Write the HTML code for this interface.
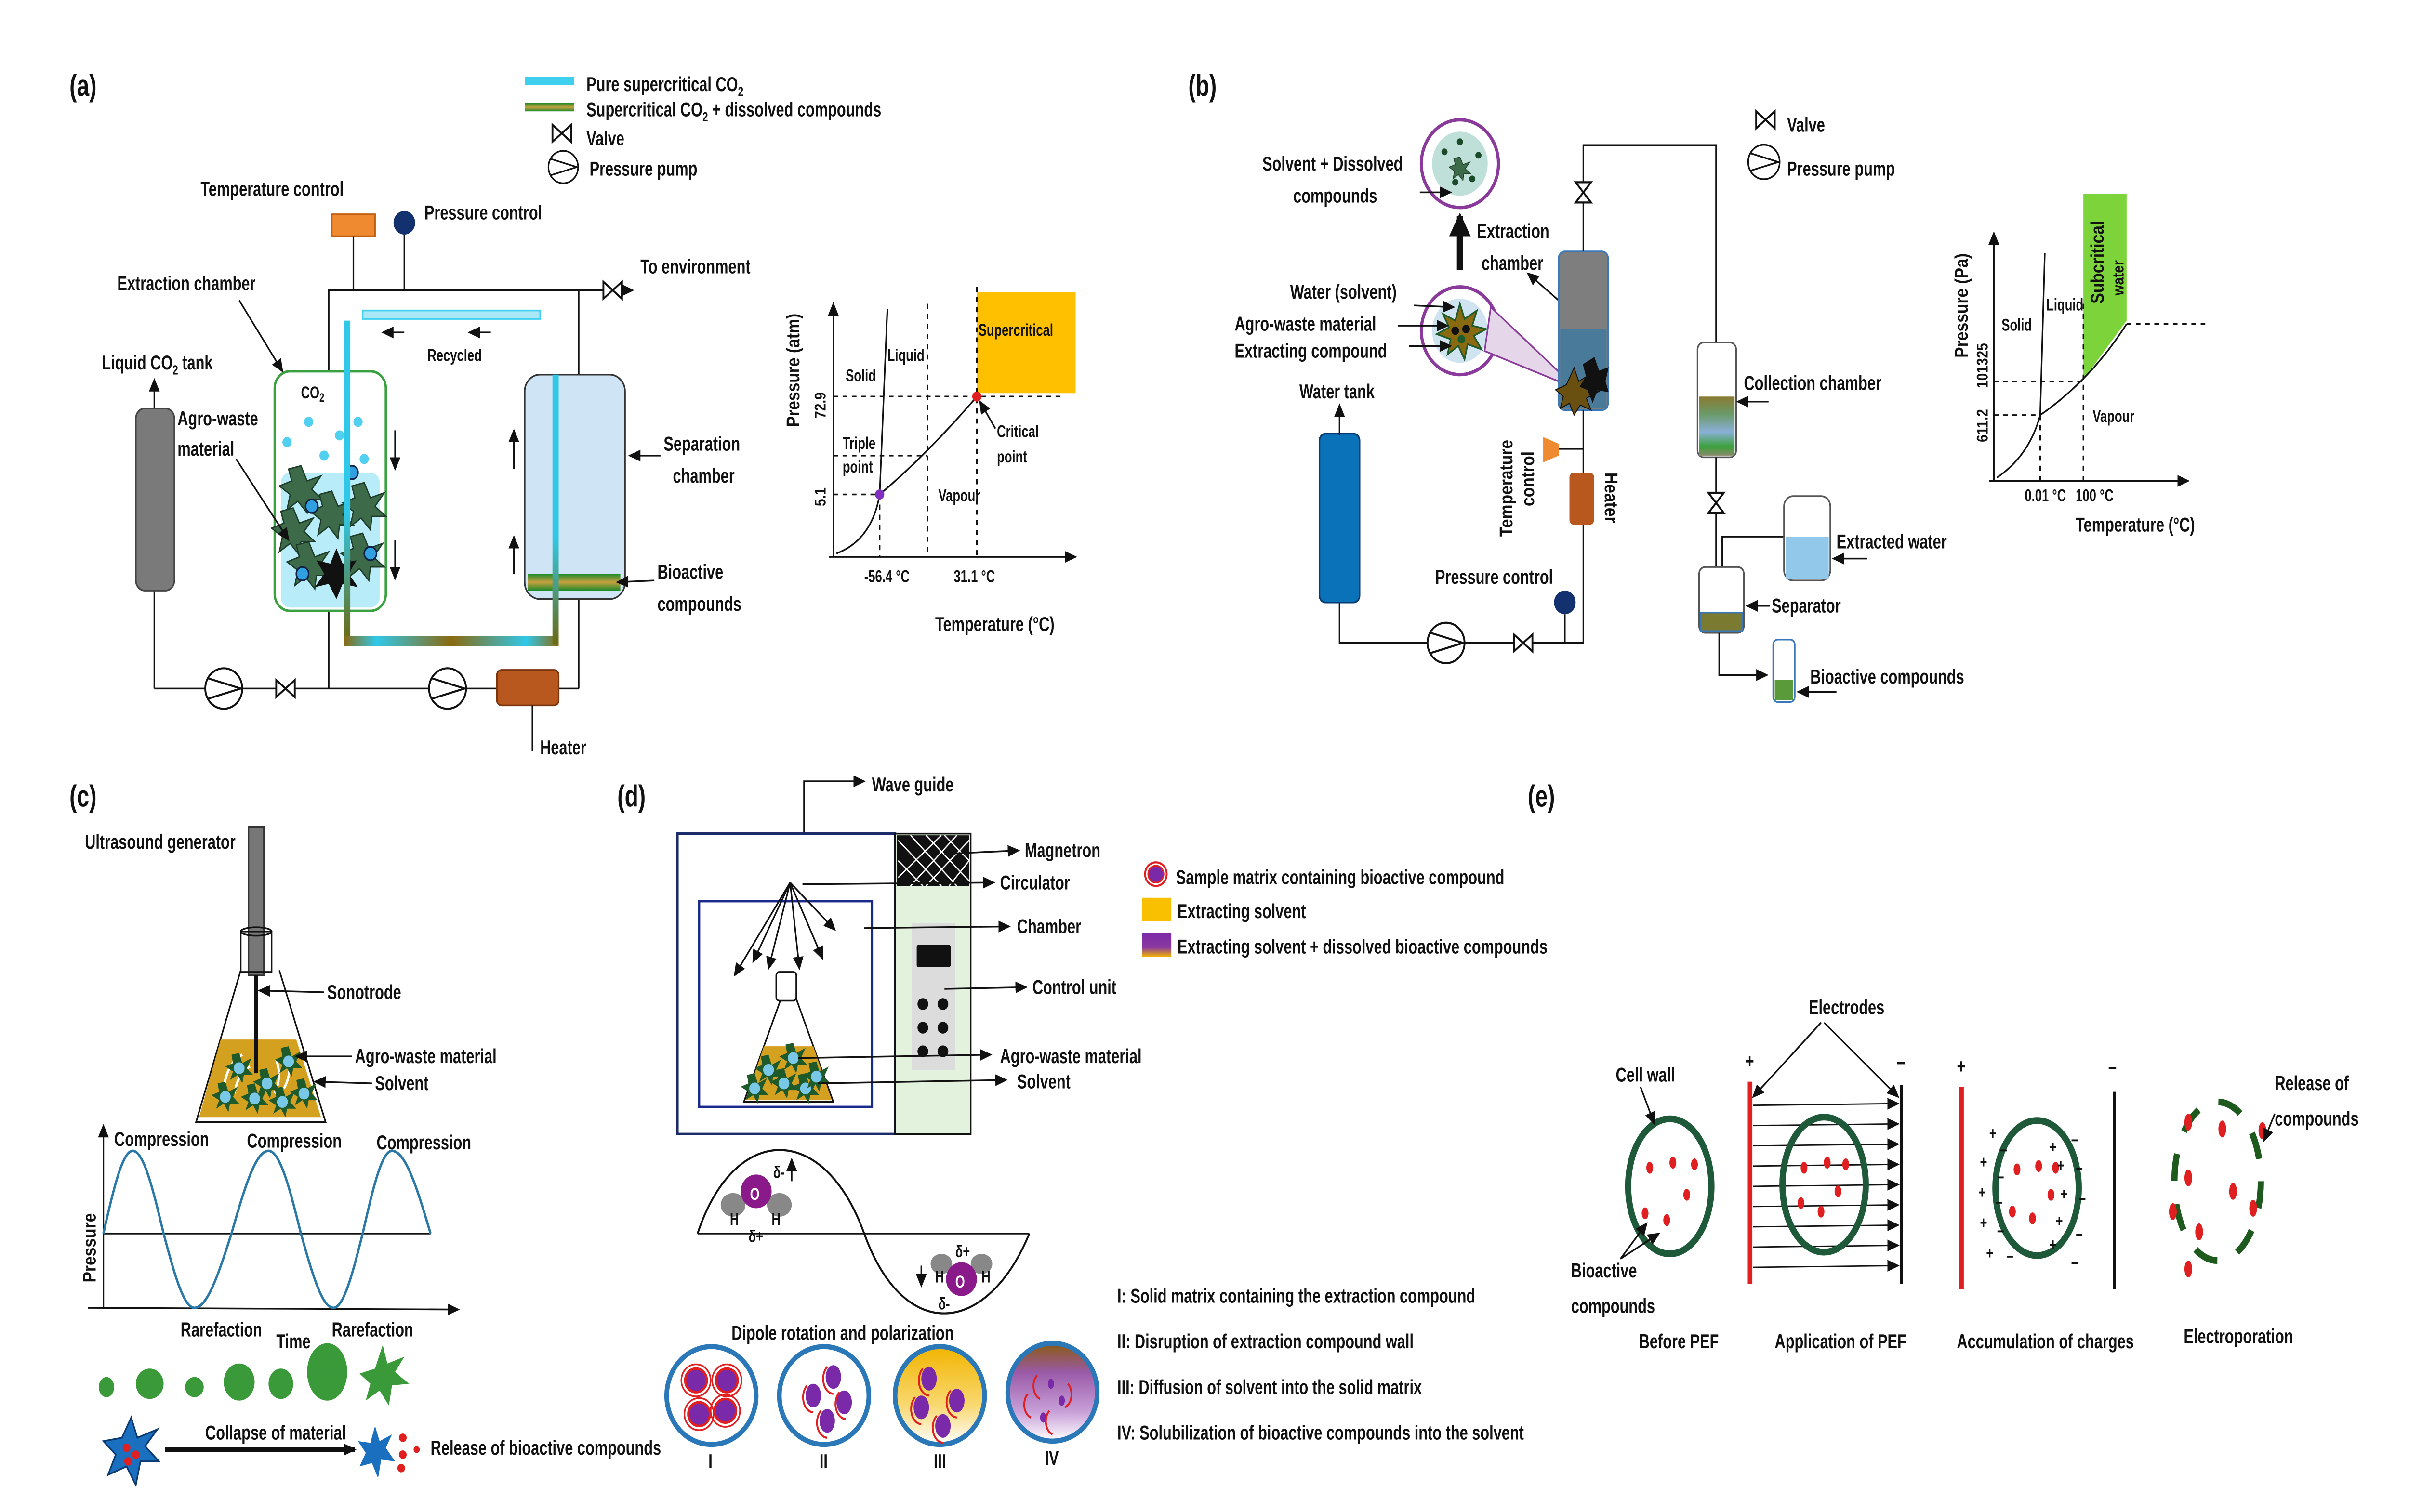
<!DOCTYPE html>
<html><head><meta charset="utf-8">
<style>
html,body{margin:0;padding:0;background:#fff;overflow:hidden;width:100%;height:100%;}
svg{display:block;width:100vw;height:100vh;}
text{font-family:"Liberation Sans",sans-serif;font-weight:bold;font-size:12px;fill:#111;transform-box:fill-box;transform-origin:0 50%;transform:scaleX(0.8);}
.lb{font-size:18px;}
.s{font-size:10px;}
</style></head><body>
<svg viewBox="0 0 1561 896" preserveAspectRatio="none" xmlns="http://www.w3.org/2000/svg">
<defs>
<marker id="ar" markerUnits="userSpaceOnUse" markerWidth="8" markerHeight="8" refX="7" refY="4" orient="auto"><path d="M0,0.5L8,4L0,7.5z" fill="#111"/></marker>
<marker id="arB" markerUnits="userSpaceOnUse" markerWidth="14" markerHeight="14" refX="12" refY="7" orient="auto"><path d="M0,0L14,7L0,14z" fill="#111"/></marker>
<linearGradient id="stripe" x1="0" y1="0" x2="0" y2="1"><stop offset="0" stop-color="#1b8b2a"/><stop offset="0.5" stop-color="#c8a040"/><stop offset="1" stop-color="#1b8b2a"/></linearGradient>
<linearGradient id="pipeH" x1="0" y1="0" x2="1" y2="0"><stop offset="0" stop-color="#8a6a10"/><stop offset="0.15" stop-color="#30c8e8"/><stop offset="0.5" stop-color="#8a6a10"/><stop offset="0.85" stop-color="#30c8e8"/><stop offset="1" stop-color="#8a6a10"/></linearGradient>
<linearGradient id="pipeV" x1="0" y1="0" x2="0" y2="1"><stop offset="0" stop-color="#30c8e8"/><stop offset="0.6" stop-color="#30c8e8"/><stop offset="1" stop-color="#6a6a10"/></linearGradient>
<linearGradient id="mix" x1="0" y1="0" x2="0" y2="1"><stop offset="0" stop-color="#7b2aa8"/><stop offset="0.6" stop-color="#8a3aa0"/><stop offset="1" stop-color="#f2b400"/></linearGradient>
<linearGradient id="dish3" x1="0" y1="0" x2="0" y2="1"><stop offset="0" stop-color="#f2b400"/><stop offset="0.6" stop-color="#f8d870"/><stop offset="1" stop-color="#fff"/></linearGradient>
<linearGradient id="dish4" x1="0" y1="0" x2="0" y2="1"><stop offset="0" stop-color="#8a5a10"/><stop offset="0.3" stop-color="#9a5aa8"/><stop offset="0.7" stop-color="#c8a0d8"/><stop offset="1" stop-color="#fff"/></linearGradient>
<linearGradient id="coll" x1="0" y1="0" x2="0" y2="1"><stop offset="0" stop-color="#8a7a30"/><stop offset="0.3" stop-color="#6a9a6a"/><stop offset="0.6" stop-color="#8ab0d8"/><stop offset="0.85" stop-color="#3aa03a"/><stop offset="1" stop-color="#8a8a6a"/></linearGradient>
<g id="valve"><path d="M-6,-5L6,5L6,-5L-6,5z" fill="#fff" stroke="#111" stroke-width="1.2"/></g>
<g id="pump"><circle r="12" fill="#fff" stroke="#111" stroke-width="1.2"/><path d="M-10,-6L11,0L-10,6" fill="none" stroke="#111" stroke-width="1.2"/></g>
<g id="star"><path d="M0,-14L4,-5L13,-8L7,0L14,6L5,6L4,14L-2,7L-9,12L-7,3L-14,-2L-6,-5L-8,-12z" fill="#3d6b4a" stroke="#1e3a28" stroke-width="0.8"/></g>
<g id="bstar"><path d="M0,-9L2,-3L8,-6L5,0L9,4L3,4L2,9L-1,4L-6,7L-4,2L-9,-1L-4,-3L-5,-8z" fill="#1e5a2a"/><circle r="3.5" fill="#7ac8e8"/></g>
</defs>
<rect width="1561" height="896" fill="#fff"/>

<!-- ============ (a) ============ -->
<text x="45" y="57" class="lb">(a)</text>
<line x1="340" y1="48" x2="372" y2="48" stroke="#3fd0f0" stroke-width="5"/>
<text x="380" y="54">Pure supercritical CO<tspan font-size="8" dy="3">2</tspan></text>
<rect x="340" y="61" width="32" height="5" fill="url(#stripe)"/>
<text x="380" y="69">Supercritical CO<tspan font-size="8" dy="3">2</tspan><tspan dy="-3"> + dissolved compounds</tspan></text>
<use href="#valve" x="364" y="79"/>
<text x="380" y="86">Valve</text>
<use href="#pump" x="365" y="99" transform="translate(365,99) scale(0.8) translate(-365,-99)"/>
<text x="382" y="104">Pressure pump</text>

<text x="130" y="116">Temperature control</text>
<rect x="215" y="127" width="28" height="13" fill="#f08a30" stroke="#c06010"/>
<line x1="229" y1="140" x2="229" y2="172" stroke="#111"/>
<line x1="262" y1="138" x2="262" y2="172" stroke="#111"/>
<circle cx="262" cy="132" r="7" fill="#13316e"/>
<text x="275" y="130">Pressure control</text>
<text x="415" y="162">To environment</text>
<polyline points="213,408 213,172 375,172 375,408" fill="none" stroke="#111"/>
<line x1="375" y1="172" x2="410" y2="172" stroke="#111" marker-end="url(#ar)"/>
<use href="#valve" x="397" y="172"/>
<line x1="100" y1="408" x2="375" y2="408" stroke="#111"/>
<line x1="100" y1="345" x2="100" y2="408" stroke="#111"/>
<line x1="100" y1="243" x2="100" y2="225" stroke="#111" marker-end="url(#ar)"/>
<text x="66" y="219">Liquid CO<tspan font-size="8" dy="3">2</tspan><tspan dy="-3"> tank</tspan></text>
<rect x="88" y="242" width="25" height="108" rx="6" fill="#7a7a7a" stroke="#444"/>
<use href="#pump" x="145" y="408"/>
<use href="#valve" x="185" y="408"/>
<use href="#pump" x="290" y="408"/>
<rect x="322" y="397" width="40" height="21" rx="3" fill="#b8581e" stroke="#7a3510"/>
<line x1="345" y1="418" x2="345" y2="445" stroke="#111"/>
<text x="350" y="447">Heater</text>

<text x="76" y="172">Extraction chamber</text>
<line x1="155" y1="178" x2="183" y2="220" stroke="#111" marker-end="url(#ar)"/>
<rect x="178" y="220" width="72" height="142" rx="10" fill="#fff" stroke="#3aa040" stroke-width="1.5"/>
<rect x="182" y="280" width="64" height="80" rx="6" fill="#b8ecf8"/>
<text x="195" y="236" class="s">CO<tspan font-size="7" dy="2">2</tspan></text>
<g fill="#52d0f0"><circle cx="200" cy="250" r="3"/><circle cx="186" cy="262" r="3"/><circle cx="210" cy="270" r="3"/><circle cx="194" cy="282" r="3"/><circle cx="232" cy="250" r="3"/><circle cx="220" cy="258" r="3"/><circle cx="236" cy="272" r="3"/></g>
<use href="#star" x="195" y="290"/><use href="#star" x="190" y="315"/><use href="#star" x="215" y="305"/><use href="#star" x="236" y="300"/><use href="#star" x="200" y="335"/><use href="#star" x="235" y="330"/>
<path d="M218,325L222,334L231,332L226,340L232,348L222,346L218,355L213,346L204,348L210,340L205,332L214,334z" fill="#111"/>
<g fill="#30a0e0" stroke="#124"><circle cx="202" cy="300" r="4"/><circle cx="228" cy="280" r="4"/><circle cx="240" cy="328" r="4"/><circle cx="196" cy="340" r="4"/></g>
<text x="115" y="252">Agro-waste</text><text x="115" y="270">material</text>
<line x1="153" y1="272" x2="187" y2="320" stroke="#111" marker-end="url(#ar)"/>
<rect x="340" y="222" width="65" height="133" rx="10" fill="#cfe4f5" stroke="#333"/>
<rect x="342" y="340" width="60" height="10" fill="url(#stripe)"/>
<rect x="223" y="190" width="4" height="190" fill="url(#pipeV)"/>
<rect x="223" y="377" width="139" height="6" fill="url(#pipeH)"/>
<rect x="358" y="222" width="4" height="160" fill="url(#pipeV)"/>
<rect x="235" y="184" width="115" height="5" fill="#a8e8f8" stroke="#3fd0f0"/>
<line x1="262" y1="197" x2="248" y2="197" stroke="#111" marker-end="url(#ar)"/>
<line x1="318" y1="197" x2="304" y2="197" stroke="#111" marker-end="url(#ar)"/>
<text x="277" y="214" class="s">Recycled</text>
<line x1="256" y1="255" x2="256" y2="278" stroke="#111" marker-end="url(#ar)"/>
<line x1="256" y1="320" x2="256" y2="343" stroke="#111" marker-end="url(#ar)"/>
<line x1="333" y1="278" x2="333" y2="255" stroke="#111" marker-end="url(#ar)"/>
<line x1="333" y1="340" x2="333" y2="318" stroke="#111" marker-end="url(#ar)"/>
<text x="430" y="267">Separation</text><text x="436" y="286">chamber</text>
<line x1="428" y1="270" x2="408" y2="270" stroke="#111" marker-end="url(#ar)"/>
<text x="426" y="343">Bioactive</text><text x="426" y="362">compounds</text>
<line x1="424" y1="344" x2="400" y2="345" stroke="#111" marker-end="url(#ar)"/>

<!-- phase diagram a -->
<line x1="540" y1="330" x2="540" y2="180" stroke="#111" marker-end="url(#ar)"/>
<line x1="537" y1="330" x2="697" y2="330" stroke="#111" marker-end="url(#ar)"/>
<rect x="633" y="173" width="64" height="60" fill="#ffc000"/>
<text x="634" y="199" class="s">Supercritical</text>
<path d="M542,328 Q565,320 570,293 Q600,270 633,235" fill="none" stroke="#111"/>
<path d="M570,293 L575,183" fill="none" stroke="#111"/>
<g stroke="#111" stroke-dasharray="3,3" fill="none"><line x1="540" y1="235" x2="690" y2="235"/><line x1="540" y1="293" x2="570" y2="293"/><line x1="570" y1="293" x2="570" y2="330"/><line x1="633" y1="170" x2="633" y2="330"/><line x1="601" y1="180" x2="601" y2="330"/><line x1="540" y1="270" x2="601" y2="270"/></g>
<circle cx="570" cy="293" r="3" fill="#8030c0"/><circle cx="633" cy="235" r="3" fill="#e02020"/>
<g transform="rotate(-90 518 253)"><text x="518" y="253">Pressure (atm)</text></g>
<g transform="rotate(-90 535 248)"><text x="535" y="248" class="s">72.9</text></g>
<g transform="rotate(-90 535 300)"><text x="535" y="300" class="s">5.1</text></g>
<text x="548" y="226" class="s">Solid</text><text x="575" y="214" class="s">Liquid</text>
<text x="546" y="266" class="s">Triple</text><text x="546" y="280" class="s">point</text>
<text x="608" y="297" class="s">Vapour</text>
<text x="646" y="259" class="s">Critical</text><text x="646" y="274" class="s">point</text>
<line x1="645" y1="254" x2="635" y2="238" stroke="#111" marker-end="url(#ar)"/>
<text x="560" y="345" class="s">-56.4 °C</text><text x="618" y="345" class="s">31.1 °C</text>
<text x="606" y="374">Temperature (°C)</text>

<!-- ============ (b) ============ -->
<text x="770" y="57" class="lb">(b)</text>
<use href="#valve" x="1144" y="71"/><text x="1158" y="78">Valve</text>
<use href="#pump" x="1143" y="96" transform="translate(1143,96) scale(0.85) translate(-1143,-96)"/><text x="1158" y="104">Pressure pump</text>
<ellipse cx="946" cy="97" rx="25" ry="26" fill="#fff" stroke="#8a3a9a" stroke-width="2"/>
<ellipse cx="946" cy="97" rx="18" ry="19" fill="#bfe0d8"/>
<use href="#star" x="946" y="100" transform="translate(946,100) scale(0.5) translate(-946,-100)"/>
<g fill="#1a4a2a"><circle cx="936" cy="90" r="2"/><circle cx="958" cy="92" r="2"/><circle cx="943" cy="108" r="2"/><circle cx="954" cy="106" r="2"/><circle cx="946" cy="84" r="2"/></g>
<text x="818" y="101">Solvent + Dissolved</text><text x="838" y="120">compounds</text>
<line x1="920" y1="114" x2="940" y2="114" stroke="#111" marker-end="url(#ar)"/>
<line x1="946" y1="160" x2="946" y2="128" stroke="#111" stroke-width="4" marker-end="url(#arB)"/>
<text x="957" y="141">Extraction</text><text x="960" y="160">chamber</text>
<line x1="1010" y1="178" x2="990" y2="162" stroke="#111" marker-end="url(#ar)"/>
<ellipse cx="946" cy="196" rx="25" ry="26" fill="#fff" stroke="#8a3a9a" stroke-width="2"/>
<ellipse cx="946" cy="196" rx="18" ry="19" fill="#cfe4f0"/>
<path d="M946,180L949,189L957,184L954,193L963,195L955,199L960,207L951,204L949,213L945,205L938,210L940,201L931,198L939,194L935,186L943,190z" fill="#8a6a10" stroke="#1e5a2a"/>
<circle cx="943" cy="196" r="2.5" fill="#111"/><circle cx="950" cy="195" r="2.5" fill="#111"/><circle cx="947" cy="201" r="2.5" fill="#1e5a2a"/>
<path d="M966,182 L1012,222 L1010,226 L962,208z" fill="#e6d6ea" stroke="#8a3a9a"/>
<text x="836" y="177">Water (solvent)</text>
<text x="800" y="196">Agro-waste material</text>
<text x="800" y="212">Extracting compound</text>
<line x1="916" y1="181" x2="942" y2="182" stroke="#111" marker-end="url(#ar)"/>
<line x1="906" y1="193" x2="938" y2="193" stroke="#111" marker-end="url(#ar)"/>
<line x1="913" y1="205" x2="940" y2="205" stroke="#111" marker-end="url(#ar)"/>
<rect x="1010" y="149" width="32" height="94" rx="4" fill="#7e7e7e" stroke="#3a78b8"/>
<rect x="1011" y="195" width="30" height="47" fill="#4a7a9a"/>
<g fill="#6a5010" stroke="#111" stroke-width="0.6">
<path d="M1020,218L1023,226L1030,222L1028,230L1036,232L1028,236L1031,243L1024,240L1020,246L1017,239L1011,242L1013,235L1008,231L1015,228z"/>
<path d="M1033,212L1036,220L1042,218L1040,226L1042,232L1035,231L1032,238L1029,231L1024,229L1028,223L1026,216z" fill="#111"/></g>
<polyline points="1026,149 1026,86 1112,86 1112,203" fill="none" stroke="#111"/>
<use href="#valve" x="1026" y="114" transform="rotate(90 1026 114)"/>
<polyline points="1026,243 1026,381 868,381 868,357" fill="none" stroke="#111"/>
<rect x="855" y="257" width="26" height="100" rx="4" fill="#0a72b8" stroke="#0a3a70"/>
<line x1="868" y1="258" x2="868" y2="240" stroke="#111" marker-end="url(#ar)"/>
<text x="842" y="236">Water tank</text>
<use href="#pump" x="937" y="381"/><use href="#valve" x="987" y="381"/>
<circle cx="1014" cy="357" r="7" fill="#13316e"/><line x1="1014" y1="364" x2="1014" y2="381" stroke="#111"/>
<text x="930" y="346">Pressure control</text>
<path d="M1000,259 L1010,263 L1010,270 L1000,274z" fill="#f08a30"/><line x1="1010" y1="266" x2="1026" y2="266" stroke="#111"/>
<g transform="rotate(-90 980 318)"><text x="980" y="318">Temperature</text></g>
<g transform="rotate(-90 994 300)"><text x="994" y="300">control</text></g>
<rect x="1017" y="280" width="16" height="31" rx="3" fill="#b8581e"/>
<g transform="rotate(90 1040 280)"><text x="1040" y="280">Heater</text></g>
<rect x="1100" y="203" width="25" height="68" rx="4" fill="#fff" stroke="#555"/>
<rect x="1101" y="235" width="23" height="35" fill="url(#coll)"/>
<text x="1130" y="231">Collection chamber</text>
<line x1="1146" y1="238" x2="1126" y2="238" stroke="#111" marker-end="url(#ar)"/>
<polyline points="1112,271 1112,336" fill="none" stroke="#111"/>
<use href="#valve" x="1112" y="298" transform="rotate(90 1112 298)"/>
<polyline points="1116,336 1116,318 1156,318" fill="none" stroke="#111"/>
<rect x="1156" y="294" width="30" height="50" rx="6" fill="#fff" stroke="#555"/>
<rect x="1157" y="318" width="28" height="25" fill="#92c8ea"/>
<text x="1190" y="325">Extracted water</text>
<line x1="1210" y1="331" x2="1188" y2="331" stroke="#111" marker-end="url(#ar)"/>
<rect x="1101" y="336" width="29" height="39" rx="4" fill="#fff" stroke="#555"/>
<rect x="1102" y="363" width="27" height="11" fill="#7a7a30" stroke="#3a78b8"/>
<text x="1148" y="363">Separator</text>
<line x1="1147" y1="359" x2="1132" y2="359" stroke="#111" marker-end="url(#ar)"/>
<polyline points="1114,375 1114,400 1145,400" fill="none" stroke="#111" marker-end="url(#ar)"/>
<rect x="1149" y="379" width="14" height="37" rx="3" fill="#fff" stroke="#3a78b8"/>
<rect x="1150" y="403" width="12" height="12" fill="#5a9a3a"/>
<text x="1173" y="405">Bioactive compounds</text>
<line x1="1190" y1="410" x2="1165" y2="410" stroke="#111" marker-end="url(#ar)"/>
<!-- phase diagram b -->
<line x1="1292" y1="285" x2="1292" y2="138" stroke="#111" marker-end="url(#ar)"/>
<line x1="1289" y1="285" x2="1418" y2="285" stroke="#111" marker-end="url(#ar)"/>
<path d="M1350,115 L1378,115 L1378,190 L1350,225z" fill="#7cd33a"/>
<g transform="rotate(-90 1363 180)"><text x="1363" y="180">Subcritical</text></g>
<g transform="rotate(-90 1376 175)"><text x="1376" y="175" class="s">water</text></g>
<path d="M1294,283 Q1315,270 1322,246 Q1355,225 1378,192" fill="none" stroke="#111"/>
<path d="M1322,246 L1325,150" fill="none" stroke="#111"/>
<g stroke="#111" stroke-dasharray="3,3" fill="none"><line x1="1292" y1="246" x2="1322" y2="246"/><line x1="1322" y1="246" x2="1322" y2="285"/><line x1="1350" y1="180" x2="1350" y2="285"/><line x1="1292" y1="226" x2="1350" y2="226"/><line x1="1378" y1="192" x2="1430" y2="192"/></g>
<g transform="rotate(-90 1275 212)"><text x="1275" y="212">Pressure (Pa)</text></g>
<g transform="rotate(-90 1288 262)"><text x="1288" y="262" class="s">611.2</text></g>
<g transform="rotate(-90 1288 230)"><text x="1288" y="230" class="s">101325</text></g>
<text x="1297" y="196" class="s">Solid</text><text x="1326" y="184" class="s">Liquid</text>
<text x="1356" y="250" class="s">Vapour</text>
<text x="1312" y="297" class="s">0.01 °C</text><text x="1345" y="297" class="s">100 °C</text>
<text x="1345" y="315">Temperature (°C)</text>

<!-- ============ (c) ============ -->
<text x="45" y="478" class="lb">(c)</text>
<text x="55" y="503">Ultrasound generator</text>
<path d="M156,575 L127,665 L211,665 L181,575" fill="none" stroke="#111"/>
<path d="M143,616 L129,662 L208,662 L192,616z" fill="#d4a020"/>
<rect x="161" y="490" width="10" height="88" fill="#777" stroke="#333"/>
<rect x="156" y="552" width="20" height="24" fill="none" stroke="#111"/>
<ellipse cx="166" cy="552" rx="10" ry="2.5" fill="none" stroke="#111"/>
<line x1="166" y1="578" x2="166" y2="636" stroke="#111" stroke-width="2.5"/>
<g stroke="#fff" fill="none" stroke-width="1.5"><path d="M145,645 q2,-15 12,-20"/><path d="M152,648 q2,-12 10,-16"/><path d="M184,645 q6,-10 2,-22"/><path d="M178,648 q5,-10 1,-20"/></g>
<use href="#bstar" x="155" y="633"/><use href="#bstar" x="165" y="651"/><use href="#bstar" x="146" y="650"/>
<use href="#bstar" x="187" y="629"/><use href="#bstar" x="183" y="653"/><use href="#bstar" x="197" y="648"/><use href="#bstar" x="173" y="642"/>
<text x="212" y="592">Sonotrode</text><line x1="210" y1="588" x2="168" y2="587" stroke="#111" marker-end="url(#ar)"/>
<text x="230" y="630">Agro-waste material</text><line x1="228" y1="626" x2="192" y2="626" stroke="#111" marker-end="url(#ar)"/>
<text x="243" y="646">Solvent</text><line x1="241" y1="642" x2="204" y2="641" stroke="#111" marker-end="url(#ar)"/>
<line x1="67" y1="775" x2="67" y2="667" stroke="#111" marker-end="url(#ar)"/>
<line x1="57" y1="775" x2="297" y2="776" stroke="#111" marker-end="url(#ar)"/>
<line x1="67" y1="731" x2="279" y2="731" stroke="#111"/>
<path d="M67,731 C73.7,704 79.4,682 86,682 C93,682 99,704 106,731 C113,755 119,775 126,775 C134.4,775 141.6,755 150,731 C158.4,704 165.6,682 174,682 C181.4,682 187.7,704 195,731 C202.4,755 208.7,775 216,775 C222.7,775 228.4,755 235,731 C241.7,704 247.4,682 254,682 C262.8,682 270.3,704 279,731" fill="none" stroke="#2a78a8" stroke-width="1.5"/>
<g transform="rotate(-90 62 760)"><text x="62" y="760">Pressure</text></g>
<text x="74" y="679">Compression</text><text x="160" y="680">Compression</text><text x="244" y="681">Compression</text>
<text x="117" y="792">Rarefaction</text><text x="215" y="792">Rarefaction</text>
<text x="179" y="799">Time</text>
<g fill="#3a9a3a"><ellipse cx="69" cy="822" rx="5" ry="6"/><ellipse cx="97" cy="820" rx="9" ry="9"/><ellipse cx="126" cy="822" rx="6" ry="6"/><ellipse cx="155" cy="819" rx="10" ry="11"/><ellipse cx="182" cy="820" rx="8" ry="9"/><ellipse cx="212" cy="813" rx="13" ry="17"/></g>
<path d="M248,797 L251,808 L262,804 L256,813 L265,820 L254,821 L252,833 L246,824 L237,830 L240,820 L233,814 L243,811z" fill="#3a9a3a"/>
<path d="M85,840 L89,852 L102,847 L94,857 L103,866 L91,866 L88,880 L82,869 L70,874 L75,862 L67,854 L79,852z" fill="#1a6fbf" stroke="#0a3a70"/>
<g fill="#e02020"><circle cx="82" cy="858" r="2.5"/><circle cx="88" cy="862" r="2.5"/><circle cx="83" cy="866" r="2.5"/></g>
<line x1="107" y1="859" x2="230" y2="859" stroke="#111" stroke-width="3" marker-end="url(#ar)"/>
<text x="133" y="853">Collapse of material</text>
<path d="M243,845 L246,854 L254,850 L250,858 L256,866 L247,865 L245,876 L241,867 L233,869 L237,861 L232,854 L240,855z" fill="#1a6fbf"/>
<g fill="#e02020"><circle cx="261" cy="852" r="2.5"/><circle cx="261" cy="862" r="2.5"/><circle cx="260" cy="870" r="2.5"/><circle cx="270" cy="859" r="2"/></g>
<text x="279" y="862">Release of bioactive compounds</text>

<!-- ============ (d) ============ -->
<text x="400" y="478" class="lb">(d)</text>
<polyline points="521,510 521,463 560,463" fill="none" stroke="#111" marker-end="url(#ar)"/>
<text x="565" y="469">Wave guide</text>
<rect x="439" y="494" width="141" height="178" fill="#fff" stroke="#1a2a6a" stroke-width="1.5"/>
<rect x="580" y="494" width="49" height="178" fill="#e2f2dc" stroke="#111"/>
<rect x="581" y="495" width="47" height="30" fill="#111"/>
<g stroke="#fff" stroke-width="0.8"><path d="M582,498 L610,525 M590,495 L620,525 M600,495 L628,522 M582,510 L598,525 M612,495 L628,510 M628,498 L600,525 M620,495 L590,525 M610,495 L582,520 M628,510 L615,525"/></g>
<rect x="453" y="534" width="112" height="122" fill="none" stroke="#1a2a8a" stroke-width="1.5"/>
<rect x="591" y="547" width="28" height="87" fill="#dcdcdc"/>
<rect x="594" y="560" width="22" height="13" rx="1" fill="#111"/>
<g fill="#111"><circle cx="598" cy="595" r="3.5"/><circle cx="611" cy="595" r="3.5"/><circle cx="598" cy="609" r="3.5"/><circle cx="611" cy="609" r="3.5"/><circle cx="598" cy="623" r="3.5"/><circle cx="611" cy="623" r="3.5"/></g>
<g stroke="#111"><line x1="512" y1="523" x2="476" y2="578" marker-end="url(#ar)"/><line x1="512" y1="523" x2="488" y2="570" marker-end="url(#ar)"/><line x1="512" y1="523" x2="498" y2="574" marker-end="url(#ar)"/><line x1="512" y1="523" x2="518" y2="574" marker-end="url(#ar)"/><line x1="512" y1="523" x2="533" y2="568" marker-end="url(#ar)"/><line x1="512" y1="523" x2="541" y2="551" marker-end="url(#ar)"/></g>
<path d="M506,592 L482,653 L540,653 L516,592z" fill="#fff" stroke="#111"/>
<path d="M495,620 L483,652 L539,652 L527,620z" fill="#d4a020"/>
<rect x="503" y="576" width="13" height="17" rx="2" fill="#fff" stroke="#111"/>
<use href="#bstar" x="498" y="634"/><use href="#bstar" x="514" y="627"/><use href="#bstar" x="508" y="642"/><use href="#bstar" x="522" y="645"/><use href="#bstar" x="489" y="645"/><use href="#bstar" x="529" y="638"/>
<line x1="612" y1="506" x2="660" y2="504" stroke="#111" marker-end="url(#ar)"/><text x="664" y="508">Magnetron</text>
<line x1="520" y1="524" x2="644" y2="523" stroke="#111" marker-end="url(#ar)"/><text x="648" y="527">Circulator</text>
<line x1="560" y1="550" x2="654" y2="549" stroke="#111" marker-end="url(#ar)"/><text x="659" y="553">Chamber</text>
<line x1="612" y1="586" x2="665" y2="585" stroke="#111" marker-end="url(#ar)"/><text x="669" y="589">Control unit</text>
<line x1="517" y1="627" x2="642" y2="625" stroke="#111" marker-end="url(#ar)"/><text x="648" y="630">Agro-waste material</text>
<line x1="530" y1="642" x2="652" y2="640" stroke="#111" marker-end="url(#ar)"/><text x="659" y="645">Solvent</text>
<circle cx="749" cy="518" r="7" fill="#fff" stroke="#e02020" stroke-width="1.2"/><circle cx="749" cy="518" r="5" fill="#7a2aa8" stroke="#e02020" stroke-width="1"/><text x="762" y="524">Sample matrix containing bioactive compound</text>
<rect x="740" y="532" width="19" height="14" fill="#f8c000"/><text x="763" y="544">Extracting solvent</text>
<rect x="740" y="553" width="19" height="14" fill="url(#mix)"/><text x="763" y="565">Extracting solvent + dissolved bioactive compounds</text>
<line x1="452" y1="731" x2="667" y2="731" stroke="#111"/>
<path d="M452,731 C476,665 534,665 560,731 S640,791 667,731" fill="none" stroke="#111" stroke-width="1.2"/>
<ellipse cx="475" cy="714" rx="8" ry="7" fill="#888"/><ellipse cx="505" cy="714" rx="8" ry="7" fill="#888"/>
<circle cx="490" cy="706" r="10" fill="#8a1a8a"/><text x="486" y="711" style="fill:#fff" class="s">O</text>
<text x="473" y="726" class="s">H</text><text x="500" y="726" class="s">H</text><text x="501" y="698" class="s">δ-</text><text x="485" y="736" class="s">δ+</text>
<line x1="513" y1="700" x2="513" y2="687" stroke="#111" marker-end="url(#ar)"/>
<ellipse cx="610" cy="749" rx="7" ry="6" fill="#888"/><ellipse cx="636" cy="749" rx="7" ry="6" fill="#888"/>
<circle cx="623" cy="758" r="10" fill="#8a1a8a"/><text x="619" y="763" style="fill:#fff" class="s">O</text>
<text x="606" y="760" class="s">H</text><text x="636" y="760" class="s">H</text><text x="619" y="745" class="s">δ+</text><text x="608" y="776" class="s">δ-</text>
<line x1="597" y1="750" x2="597" y2="762" stroke="#111" marker-end="url(#ar)"/>
<text x="474" y="794">Dipole rotation and polarization</text>
<g stroke="#2a78b8" stroke-width="3">
<circle cx="461" cy="827" r="29" fill="#fff"/><circle cx="534" cy="827" r="29" fill="#fff"/><circle cx="609" cy="827" r="29" fill="url(#dish3)"/><circle cx="682" cy="825" r="29" fill="url(#dish4)"/></g>
<g fill="#7a2aa8" stroke="#e02020" stroke-width="1.5">
<circle cx="451" cy="818" r="7"/><circle cx="471" cy="818" r="7"/><circle cx="453" cy="838" r="7"/><circle cx="470" cy="836" r="7"/></g>
<g fill="none" stroke="#e02020" stroke-width="1"><circle cx="451" cy="818" r="9.5"/><circle cx="471" cy="818" r="9.5"/><circle cx="453" cy="838" r="9.5"/><circle cx="470" cy="836" r="9.5"/></g>
<g fill="#7a2aa8"><ellipse cx="527" cy="827" rx="5" ry="7"/><ellipse cx="540" cy="816" rx="5" ry="7"/><ellipse cx="547" cy="831" rx="5" ry="7"/><ellipse cx="536" cy="842" rx="5" ry="7"/>
<ellipse cx="602" cy="817" rx="5" ry="7"/><ellipse cx="597" cy="834" rx="5" ry="7"/><ellipse cx="620" cy="830" rx="5" ry="7"/><ellipse cx="611" cy="845" rx="5" ry="7"/>
<ellipse cx="681" cy="820" rx="2" ry="3"/><ellipse cx="688" cy="830" rx="2" ry="3"/><ellipse cx="676" cy="840" rx="2" ry="3"/></g>
<g fill="none" stroke="#e02020" stroke-width="1.2"><path d="M523,821 a7,9 0 0,0 4,16"/><path d="M536,810 a7,9 0 0,0 4,16"/><path d="M544,825 a7,9 0 0,0 4,16"/><path d="M532,836 a7,9 0 0,0 4,16"/>
<path d="M598,811 a7,9 0 0,0 4,16"/><path d="M593,828 a7,9 0 0,0 4,16"/><path d="M616,824 a7,9 0 0,0 4,16"/><path d="M607,839 a7,9 0 0,0 4,16"/>
<path d="M672,815 a6,8 0 0,0 2,14"/><path d="M666,826 a6,8 0 0,0 2,14"/><path d="M692,820 a6,8 0 0,1 -2,14"/><path d="M680,836 a6,8 0 0,0 2,14"/></g>
<text x="459" y="870">I</text><text x="531" y="870">II</text><text x="605" y="870">III</text><text x="677" y="868">IV</text>
<text x="724" y="772">I:  Solid matrix containing the extraction compound</text>
<text x="724" y="799">II: Disruption of extraction compound wall</text>
<text x="724" y="826">III: Diffusion of solvent into the solid matrix</text>
<text x="724" y="853">IV: Solubilization of bioactive compounds into the solvent</text>

<!-- ============ (e) ============ -->
<text x="990" y="478" class="lb">(e)</text>
<text x="1172" y="601">Electrodes</text>
<line x1="1180" y1="606" x2="1136" y2="650" stroke="#111" marker-end="url(#ar)"/>
<line x1="1182" y1="606" x2="1230" y2="650" stroke="#111" marker-end="url(#ar)"/>
<ellipse cx="1082" cy="703" rx="27" ry="40" fill="#fff" stroke="#1e5a3a" stroke-width="4"/>
<g fill="#e02020"><ellipse cx="1069" cy="692" rx="2.2" ry="3.5"/><ellipse cx="1084" cy="689" rx="2.2" ry="3.5"/><ellipse cx="1098" cy="690" rx="2.2" ry="3.5"/><ellipse cx="1093" cy="708" rx="2.2" ry="3.5"/><ellipse cx="1066" cy="719" rx="2.2" ry="3.5"/><ellipse cx="1080" cy="723" rx="2.2" ry="3.5"/></g>
<text x="1047" y="641">Cell wall</text><line x1="1063" y1="644" x2="1072" y2="666" stroke="#111" marker-end="url(#ar)"/>
<text x="1018" y="757">Bioactive</text><text x="1018" y="778">compounds</text>
<line x1="1050" y1="746" x2="1067" y2="725" stroke="#111" marker-end="url(#ar)"/>
<line x1="1050" y1="746" x2="1075" y2="731" stroke="#111" marker-end="url(#ar)"/>
<text x="1062" y="799">Before PEF</text>
<line x1="1134" y1="641" x2="1134" y2="761" stroke="#e02020" stroke-width="3"/>
<line x1="1232" y1="643" x2="1232" y2="761" stroke="#111" stroke-width="2"/>
<text x="1131" y="633">+</text><text x="1229" y="634">−</text>
<g stroke="#111" stroke-width="0.8">
<line x1="1136" y1="655" x2="1230" y2="654" marker-end="url(#ar)"/><line x1="1136" y1="667" x2="1230" y2="666" marker-end="url(#ar)"/><line x1="1136" y1="679" x2="1230" y2="678" marker-end="url(#ar)"/><line x1="1136" y1="691" x2="1230" y2="690" marker-end="url(#ar)"/><line x1="1136" y1="703" x2="1230" y2="702" marker-end="url(#ar)"/><line x1="1136" y1="715" x2="1230" y2="714" marker-end="url(#ar)"/><line x1="1136" y1="727" x2="1230" y2="726" marker-end="url(#ar)"/><line x1="1136" y1="739" x2="1230" y2="738" marker-end="url(#ar)"/><line x1="1136" y1="751" x2="1230" y2="750" marker-end="url(#ar)"/></g>
<ellipse cx="1182" cy="702" rx="27" ry="40" fill="none" stroke="#1e5a3a" stroke-width="4"/>
<g fill="#e02020"><ellipse cx="1169" cy="692" rx="2.2" ry="3.5"/><ellipse cx="1184" cy="689" rx="2.2" ry="3.5"/><ellipse cx="1196" cy="690" rx="2.2" ry="3.5"/><ellipse cx="1191" cy="706" rx="2.2" ry="3.5"/><ellipse cx="1167" cy="713" rx="2.2" ry="3.5"/><ellipse cx="1180" cy="718" rx="2.2" ry="3.5"/></g>
<text x="1150" y="799">Application of PEF</text>
<line x1="1271" y1="644" x2="1271" y2="764" stroke="#e02020" stroke-width="3"/>
<line x1="1370" y1="647" x2="1370" y2="764" stroke="#111" stroke-width="2"/>
<text x="1268" y="636">+</text><text x="1366" y="637">−</text>
<ellipse cx="1320" cy="704" rx="27" ry="40" fill="#fff" stroke="#1e5a3a" stroke-width="4"/>
<g fill="#e02020"><ellipse cx="1307" cy="693" rx="2.2" ry="3.5"/><ellipse cx="1321" cy="691" rx="2.2" ry="3.5"/><ellipse cx="1332" cy="692" rx="2.2" ry="3.5"/><ellipse cx="1329" cy="708" rx="2.2" ry="3.5"/><ellipse cx="1304" cy="718" rx="2.2" ry="3.5"/><ellipse cx="1317" cy="722" rx="2.2" ry="3.5"/></g>
<g><text x="1289" y="675" class="s">+</text><text x="1283" y="692" class="s">+</text><text x="1282" y="710" class="s">+</text><text x="1283" y="728" class="s">+</text><text x="1287" y="746" class="s">+</text><text x="1328" y="683" class="s">+</text><text x="1333" y="694" class="s">+</text><text x="1335" y="711" class="s">+</text><text x="1332" y="727" class="s">+</text><text x="1328" y="741" class="s">+</text>
<text x="1296" y="685" class="s">−</text><text x="1294" y="701" class="s">−</text><text x="1293" y="716" class="s">−</text><text x="1294" y="733" class="s">−</text><text x="1300" y="748" class="s">−</text><text x="1342" y="679" class="s">−</text><text x="1345" y="696" class="s">−</text><text x="1347" y="714" class="s">−</text><text x="1345" y="735" class="s">−</text><text x="1342" y="752" class="s">−</text></g>
<text x="1268" y="799">Accumulation of charges</text>
<ellipse cx="1437" cy="700" rx="28" ry="47" fill="none" stroke="#1e5a1e" stroke-width="4" stroke-dasharray="16,14"/>
<g fill="#e02020"><ellipse cx="1418" cy="665" rx="2.5" ry="5"/><ellipse cx="1440" cy="669" rx="2.5" ry="5"/><ellipse cx="1418" cy="698" rx="2.5" ry="5"/><ellipse cx="1447" cy="706" rx="2.5" ry="5"/><ellipse cx="1460" cy="716" rx="2.5" ry="5"/><ellipse cx="1408" cy="718" rx="2.5" ry="5"/><ellipse cx="1425" cy="730" rx="2.5" ry="5"/><ellipse cx="1418" cy="752" rx="2.5" ry="5"/><ellipse cx="1466" cy="670" rx="2.5" ry="5"/></g>
<text x="1474" y="646">Release of</text><text x="1474" y="667">compounds</text>
<line x1="1474" y1="660" x2="1467" y2="676" stroke="#111" marker-end="url(#ar)"/>
<text x="1415" y="796">Electroporation</text>
</svg>
</body></html>
